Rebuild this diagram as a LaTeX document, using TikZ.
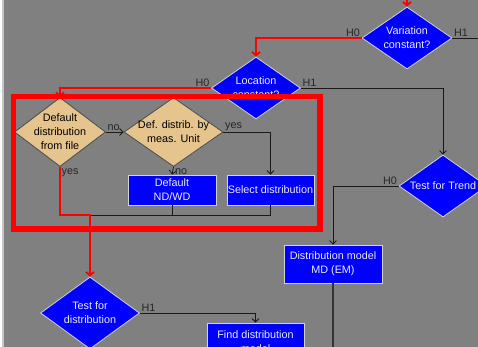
\documentclass[tikz,border=0pt]{standalone}
\usepackage{fontspec}
\setmainfont{Liberation Sans}
\usetikzlibrary{shapes.geometric,arrows.meta}

\definecolor{panel}{HTML}{808080}
\definecolor{boxblue}{HTML}{0000FF}
\definecolor{tanfill}{HTML}{E6C48E}
\definecolor{boxedge}{HTML}{D4D4D4}
\definecolor{boxtext}{HTML}{ECECFF}
\definecolor{hot}{HTML}{FF0000}

\newcommand{\flowfont}{\fontsize{10.8}{14}\selectfont}

\tikzset{
  bluebox/.style={rectangle, draw=boxedge, line width=0.8pt, fill=boxblue, text=boxtext, align=center, inner sep=0pt, font=\flowfont},
  bluedia/.style={diamond, draw=boxedge, line width=0.8pt, fill=boxblue, inner sep=0pt},
  tandia/.style={diamond, draw=black!70, line width=0.8pt, fill=tanfill, inner sep=0pt},
  dtext/.style={align=center, font=\flowfont, inner sep=0pt},
  lbl/.style={font=\flowfont, text=black!85, inner sep=1.5pt},
  conn/.style={draw=black!90, line width=0.8pt},
  arr/.style={conn, -{Straight Barb[length=3.5pt,width=7pt]}},
  hotarr/.style={draw=hot, line width=1.8pt, -{Straight Barb[length=3.5pt,width=8pt]}},
  hilite/.style={draw=hot, line width=5.5pt}
}

\begin{document}
\begin{tikzpicture}[x=1pt, y=-1pt]
        % Canvas
        \useasboundingbox (0,0) rectangle (478,347);
        \clip (0,0) rectangle (478,347);
        \fill[white] (0,0) rectangle (478,347);
        \fill[black!22] (2,0) rectangle (4,347);
        \fill[panel] (4,0) rectangle (478,347);

        % Decisions on the right
        \node[bluedia, minimum width=90pt, minimum height=62pt,
              label={[dtext, text=boxtext]center:Variation\\constant?}] (var) at (407,38) {};
        \node[lbl, above left] (varh0) at (var.west) {H0};
        \node[lbl, above right] (varh1) at (var.east) {H1};

        \node[bluedia, minimum width=89pt, minimum height=62pt,
              label={[dtext, text=boxtext]center:Location\\constant?}] (loc) at (256,88) {};
        \node[lbl, above left] (loch0) at (loc.west) {H0};
        \node[lbl, above right] (loch1) at (loc.east) {H1};

        \node[bluedia, minimum width=88pt, minimum height=62pt,
              label={[dtext, text=boxtext]center:Test for Trend}] (trend) at (443,186) {};
        \node[lbl, above left] (trendh0) at (trend.west) {H0};

        % Distribution choice
        \node[tandia, minimum width=91pt, minimum height=69pt,
              label={[dtext]center:Default\\distribution\\from file}] (dflt) at (60,132) {};
        \node[lbl, above right] (dfltno) at (dflt.east) {no};
        \node[lbl, below right] (dfltyes) at (dflt.south) {yes};

        \node[tandia, minimum width=99pt, minimum height=69pt,
              label={[dtext]center:Def. distrib. by\\meas. Unit}] (defd) at (173.5,132) {};
        \node[lbl, above right] (defdyes) at (defd.east) {yes};
        \node[lbl, below right] (defdno) at (defd.south) {no};

        \node[bluebox, minimum width=88pt, minimum height=30pt] (nd) at (172,190) {Default\\ND/WD};
        \node[bluebox, minimum width=87pt, minimum height=30pt] (sel) at (270.5,190) {Select distribution};

        % Lower part
        \node[bluedia, minimum width=99pt, minimum height=72pt,
              label={[dtext, text=boxtext]center:Test for\\distribution}] (testd) at (90,313) {};
        \node[lbl, above right] (testdh1) at (testd.east) {H1};

        \node[bluebox, minimum width=97pt, minimum height=38pt] (find) at (255.5,342) {Find distribution\\model};
        \node[bluebox, minimum width=98pt, minimum height=38pt] (dm) at (333,264) {Distribution model\\MD (EM)};

        % Loose ends
        \coordinate (vin) at (407,-4);
        \coordinate (vout) at (480,38);
        \coordinate (jn) at (90,215);
        \coordinate (dmout) at (333,352);

        % Connectors
        \draw[hotarr] (vin) -- (var.north);
        \draw[hotarr] (var.west) -| (loc.north);
        \draw[conn] (var.east) -- (vout);
        \draw[hotarr] (loc.west) -| (dflt.north);
        \draw[arr] (loc.east) -| (trend.north);
        \draw[arr] (dflt.east) -- (defd.west);
        \draw[arr] (defd.east) -| (sel.north);
        \draw[arr] (defd.south) -- (nd.north);
        \draw[conn] (nd.south) |- (jn);
        \draw[conn] (sel.south) |- (nd.south |- jn);
        \draw[hotarr] (dflt.south) |- (jn) -- (testd.north);
        \draw[arr] (testd.east) -| (find.north);
        \draw[arr] (trend.west) -| (dm.north);
        \draw[draw=black!80, line width=1.4pt] (dm.south) -- (dmout);

        % Highlight frame
        \draw[hilite] (13.5,96.5) rectangle (320,229);
\end{tikzpicture}
\end{document}
